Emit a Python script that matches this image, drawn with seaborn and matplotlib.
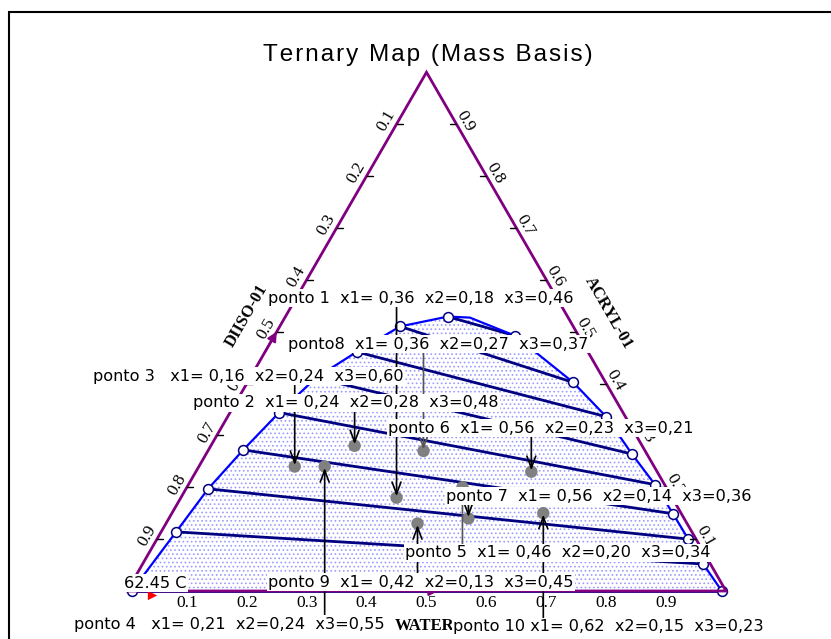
import numpy as np
import pandas as pd
import matplotlib
matplotlib.use("Agg")
import matplotlib.pyplot as plt
from matplotlib.patches import Polygon, Rectangle
from matplotlib.transforms import offset_copy
import seaborn as sns

# ---------------------------------------------------------------
# Data: x1 = WATER, x2 = ACRYL-01, x3 = DIISO-01 (mass fractions)
# ---------------------------------------------------------------
point_names = ["ponto 1  ", "ponto 2  ", "ponto 3   ", "ponto 4   ", "ponto 5  ",
               "ponto 6  ", "ponto 7  ", "ponto8  ", "ponto 9  ", "ponto 10 "]
x1_vals = [0.36, 0.24, 0.16, 0.21, 0.46, 0.56, 0.56, 0.36, 0.42, 0.62]
x2_vals = [0.18, 0.28, 0.24, 0.24, 0.20, 0.23, 0.14, 0.27, 0.13, 0.15]
x3_vals = [0.46, 0.48, 0.60, 0.55, 0.34, 0.21, 0.36, 0.37, 0.45, 0.23]

# Tie-line ends on the DIISO-rich branch (WATER, ACRYL)
left_water = [0.008, 0.025, 0.037, 0.058, 0.082, 0.110, 0.153, 0.201, 0.271]
left_acryl = [0.000, 0.114, 0.197, 0.272, 0.344, 0.411, 0.461, 0.510, 0.529]
# Tie-line ends on the WATER-rich branch (WATER, ACRYL)
right_water = [0.993, 0.936, 0.887, 0.837, 0.779, 0.711, 0.632, 0.544, 0.402]
right_acryl = [0.000, 0.052, 0.100, 0.149, 0.205, 0.264, 0.336, 0.402, 0.492]
# Binodal point between the two branches, near the plait point
top_water = [0.309]
top_acryl = [0.527]

axis_ticks = [0.1, 0.2, 0.3, 0.4, 0.5, 0.6, 0.7, 0.8, 0.9]
temperature_label = "62.45 C"

# ---------------------------------------------------------------
PURPLE = "#800080"
BLUE = "#0000ff"
NAVY = "#000080"
SQ3 = np.sqrt(3) / 2


def tern(water, acryl):
    water = np.asarray(water, float)
    acryl = np.asarray(acryl, float)
    return water + acryl / 2, acryl * SQ3


# layout helper: pixel position on the 831x639 canvas -> data coords
PX0, PY0, SCALE = 127.0, 591.0, 599.0


def pix(x, y):
    return (x - PX0) / SCALE, (PY0 - y) / SCALE


sns.set_theme(style="white")
plt.rcParams["font.family"] = ["DejaVu Sans"]
plt.rcParams["text.color"] = "black"
plt.rcParams["hatch.linewidth"] = 0.7

fig = plt.figure(figsize=(8.31, 6.39), dpi=100)
ax = fig.add_axes([0, 0, 1, 1])
ax.set_xlim(-PX0 / SCALE, (831 - PX0) / SCALE)
ax.set_ylim((PY0 - 639) / SCALE, PY0 / SCALE)
ax.set_axis_off()

# outer frame
fig.patches.append(Rectangle((9 / 831, -0.2), 2.0, 1.2 - 12 / 639, transform=fig.transFigure,
                             fill=False, edgecolor="black", lw=1.5))

# title
fig.text(428 / 831, 1 - 55 / 639, "\u200a".join("Ternary Map (Mass Basis)"),
         ha="center", va="center", fontsize=17.5,
         family=["Liberation Sans", "DejaVu Sans"], color="black")

# ---- two-phase region -----------------------------------------
bin_w = left_water + top_water + right_water[::-1]
bin_a = left_acryl + top_acryl + right_acryl[::-1]
bx, by = tern(bin_w, bin_a)
ax.add_patch(Polygon(np.column_stack([bx, by]), closed=True, facecolor="white",
                     edgecolor="#9c9cff", hatch="....", lw=0, zorder=1))

binodal = pd.DataFrame({"x": bx, "y": by, "order": np.arange(len(bx))})
sns.lineplot(data=binodal, x="x", y="y", sort=False, estimator=None, color=BLUE,
             lw=1.6, ax=ax, zorder=3)

# tie lines
lx, ly = tern(left_water, left_acryl)
rx, ry = tern(right_water, right_acryl)
ties = pd.DataFrame({
    "x": np.concatenate([lx, rx]),
    "y": np.concatenate([ly, ry]),
    "tie": np.concatenate([np.arange(len(lx)), np.arange(len(rx))]),
})
sns.lineplot(data=ties, x="x", y="y", units="tie", estimator=None, sort=False,
             color=NAVY, lw=2.0, ax=ax, zorder=2)
ends = pd.DataFrame({"x": ties["x"], "y": ties["y"]})
sns.scatterplot(data=ends, x="x", y="y", s=50, color="white", edgecolor=NAVY,
                linewidth=1.1, ax=ax, zorder=4)

# ---- triangle -------------------------------------------------
cx, cy = tern([0, 1, 0, 0], [0, 0, 1, 0])
ax.plot(cx, cy, color=PURPLE, lw=2.0, zorder=5, solid_joinstyle="miter")

# direction arrows on the edges
ax.annotate("", xy=tern(0.0, 0.50), xytext=tern(0.0, 0.46),
            arrowprops=dict(arrowstyle="-|>", color=PURPLE, lw=1.5, mutation_scale=14,
                            shrinkA=0, shrinkB=0), zorder=6)
ax.annotate("", xy=tern(0.52, 0.0), xytext=tern(0.47, 0.0),
            arrowprops=dict(arrowstyle="-|>", color=PURPLE, lw=1.5, mutation_scale=14,
                            shrinkA=0, shrinkB=0), zorder=6)
# small red marker at the DIISO corner
ax.scatter(*tern(0.045, -0.008), marker=">", s=45, color="red", zorder=4, lw=0)

serif = ["Liberation Serif", "DejaVu Serif"]
tick_len = 6 / SCALE
tick_fs = 12.5
for v in axis_ticks:
    # left edge: DIISO-01 fraction
    ex, ey = tern(0.0, 1 - v)
    ax.plot([ex, ex + tick_len], [ey, ey], color="black", lw=1.0, zorder=6)
    ax.text(ex, ey, f"{v:.1f}", rotation=60, ha="center", va="center", fontsize=tick_fs,
            family=serif, transform=offset_copy(ax.transData, fig, x=-10, y=3, units="dots"),
            zorder=7)
    # right edge: ACRYL-01 fraction
    ex, ey = tern(1 - v, v)
    ax.plot([ex - tick_len, ex], [ey, ey], color="black", lw=1.0, zorder=6)
    ax.text(ex, ey, f"{v:.1f}", rotation=-60, ha="center", va="center", fontsize=tick_fs,
            family=serif, transform=offset_copy(ax.transData, fig, x=9, y=3, units="dots"),
            zorder=7)
    # bottom edge: WATER fraction
    ex, ey = tern(v, 0.0)
    ax.text(ex, ey, f"{v:.1f}", ha="center", va="center", fontsize=tick_fs, family=serif,
            transform=offset_copy(ax.transData, fig, x=0, y=-12, units="dots"), zorder=7)

ax.text(*pix(247, 316), "DIISO-01", rotation=60, ha="center", va="center", fontsize=12,
        fontweight="bold", family=serif, zorder=7)
ax.text(*pix(608, 313), "ACRYL-01", rotation=-60, ha="center", va="center", fontsize=12,
        fontweight="bold", family=serif, zorder=7)
ax.text(*pix(425, 626), "WATER", ha="center", va="center", fontsize=12,
        fontweight="bold", family=serif, zorder=7)

# ---- experimental points --------------------------------------
pw = 1 - np.asarray(x2_vals) - np.asarray(x3_vals)
px_, py_ = tern(pw, x2_vals)
pts = pd.DataFrame({"x": px_, "y": py_, "name": point_names})
sns.scatterplot(data=pts, x="x", y="y", s=80, color="#808080", edgecolor="none",
                ax=ax, zorder=8)

# label anchors (left edge x, centre y) in canvas pixels
label_pos = [(268, 298), (193, 403), (93, 376), (74, 624), (405, 553),
             (388, 428), (446, 496), (288, 344), (268, 582), (453, 627)]
line_colors = ["black", "black", "black", "black", "#555555",
               "black", "black", "#555555", "black", "black"]

box = dict(facecolor="white", edgecolor="none", pad=1.0)
for i, name in enumerate(point_names):
    text = (f"{name}x1= {x1_vals[i]:.2f}  x2={x2_vals[i]:.2f}  x3={x3_vals[i]:.2f}"
            .replace(".", ","))
    lx0, ly0 = pix(*label_pos[i])
    ax.text(lx0, ly0, text, ha="left", va="center", fontsize=11.6, bbox=box, zorder=12)
    ax.annotate("", xy=(px_[i], py_[i]), xytext=(px_[i], ly0),
                arrowprops=dict(arrowstyle="->,head_length=0.85,head_width=0.32",
                                color=line_colors[i], lw=1.2, shrinkA=0, shrinkB=1,
                                mutation_scale=10), zorder=9)

ax.text(*pix(124, 583), temperature_label, ha="left", va="center", fontsize=11.6,
        bbox=box, zorder=12)

fig.savefig("out.png", dpi=100)
